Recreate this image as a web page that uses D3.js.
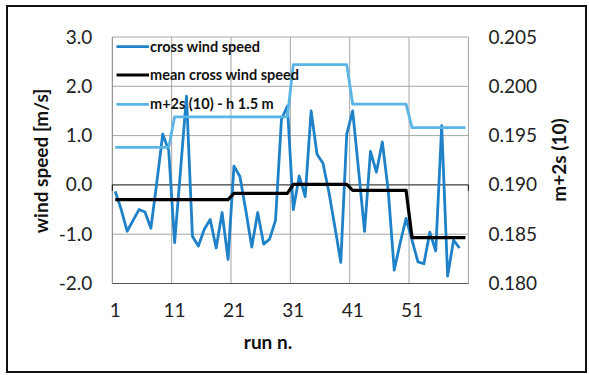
<!DOCTYPE html>
<html>
<head>
<meta charset="utf-8">
<script src="https://cdn.jsdelivr.net/npm/d3@7"></script>
<style>
  body { margin: 0; background: #fff; }
  svg { display: block; font-family: Lato, "Open Sans", sans-serif; }
</style>
</head>
<body>
<svg id="chart" width="589" height="375"></svg>
<script>
// Run numbers (category axis)
const runs = [1,2,3,4,5,6,7,8,9,10,11,12,13,14,15,16,17,18,19,20,
              21,22,23,24,25,26,27,28,29,30,31,32,33,34,35,36,37,38,39,40,
              41,42,43,44,45,46,47,48,49,50,51,52,53,54,55,56,57,58,59,60];

// Cross wind speed per run [m/s] (no value for run 60)
const crossWind = [-0.13,-0.50,-0.94,-0.72,-0.50,-0.55,-0.88,0.05,1.03,0.70,
                   -1.17,0.30,1.80,-1.04,-1.24,-0.90,-0.70,-1.28,-0.56,-1.51,
                   0.38,0.17,-0.52,-1.26,-0.56,-1.20,-1.10,-0.72,1.33,1.60,
                   -0.50,0.18,-0.24,1.50,0.62,0.44,-0.15,-0.85,-1.57,1.03,
                   1.50,0.30,-0.94,0.68,0.26,0.87,-0.12,-1.73,-1.18,-0.68,
                   -1.12,-1.56,-1.60,-0.96,-1.34,1.20,-1.85,-1.12,-1.28];

// Mean cross wind speed per run [m/s]
const meanCrossWind = [-0.30,-0.30,-0.30,-0.30,-0.30,-0.30,-0.30,-0.30,-0.30,-0.30,
                       -0.30,-0.30,-0.30,-0.30,-0.30,-0.30,-0.30,-0.30,-0.30,-0.30,
                       -0.17,-0.17,-0.17,-0.17,-0.17,-0.17,-0.17,-0.17,-0.17,-0.17,
                       0.01,0.01,0.01,0.01,0.01,0.01,0.01,0.01,0.01,0.01,
                       -0.11,-0.11,-0.11,-0.11,-0.11,-0.11,-0.11,-0.11,-0.11,-0.11,
                       -1.07,-1.07,-1.07,-1.07,-1.07,-1.07,-1.07,-1.07,-1.07,-1.07];

// m+2s (10) at h 1.5 m, right axis
const m2s = [0.1938,0.1938,0.1938,0.1938,0.1938,0.1938,0.1938,0.1938,0.1938,0.1938,
             0.1969,0.1969,0.1969,0.1969,0.1969,0.1969,0.1969,0.1969,0.1969,0.1969,
             0.1969,0.1969,0.1969,0.1969,0.1969,0.1969,0.1969,0.1969,0.1969,0.1969,
             0.2022,0.2022,0.2022,0.2022,0.2022,0.2022,0.2022,0.2022,0.2022,0.2022,
             0.1982,0.1982,0.1982,0.1982,0.1982,0.1982,0.1982,0.1982,0.1982,0.1982,
             0.1958,0.1958,0.1958,0.1958,0.1958,0.1958,0.1958,0.1958,0.1958,0.1958];

const leftTicks = [-2, -1, 0, 1, 2, 3];
const rightTicks = [0.180, 0.185, 0.190, 0.195, 0.200, 0.205];
const runTicks = [1, 11, 21, 31, 41, 51];
const gridRuns = [11, 21, 31, 41, 51];

const seriesNames = ["cross wind speed", "mean cross wind speed", "m+2s (10) - h 1.5 m"];
const colors = { cross: "#1f82c8", mean: "#000000", m2s: "#5ab5e6" };

const plot = { left: 112.3, right: 468.4, top: 37, bottom: 283.5 };

const svg = d3.select("#chart");

const x = d3.scaleBand().domain(runs).range([plot.left, plot.right]).paddingInner(0).paddingOuter(0);
const cx = d => x(d) + x.bandwidth() / 2;
const yL = d3.scaleLinear().domain([-2, 3]).range([plot.bottom, plot.top]);
const yR = d3.scaleLinear().domain([0.180, 0.205]).range([plot.bottom, plot.top]);

// outer frame
svg.append("rect").attr("x", 7).attr("y", 6).attr("width", 579).attr("height", 366)
  .attr("fill", "none").attr("stroke", "#111").attr("stroke-width", 2);

// horizontal gridlines
svg.append("g").selectAll("line").data(leftTicks.filter(v => v !== 0 && v !== -2)).join("line")
  .attr("x1", plot.left).attr("x2", plot.right)
  .attr("y1", d => yL(d)).attr("y2", d => yL(d))
  .attr("stroke", "#a6a6a6").attr("stroke-width", 1);

// vertical gridlines at category boundaries
svg.append("g").selectAll("line").data(gridRuns).join("line")
  .attr("x1", d => x(d)).attr("x2", d => x(d))
  .attr("y1", plot.top).attr("y2", plot.bottom)
  .attr("stroke", "#a6a6a6").attr("stroke-width", 1);

// plot border
svg.append("line").attr("x1", plot.right).attr("x2", plot.right).attr("y1", plot.top).attr("y2", plot.bottom)
  .attr("stroke", "#a6a6a6");
svg.append("line").attr("x1", plot.left).attr("x2", plot.left).attr("y1", plot.top).attr("y2", plot.bottom)
  .attr("stroke", "#7a7a7a");
svg.append("line").attr("x1", plot.left).attr("x2", plot.right).attr("y1", plot.bottom).attr("y2", plot.bottom)
  .attr("stroke", "#555").attr("stroke-width", 1.2);

// zero axis line with end ticks
svg.append("line").attr("x1", plot.left).attr("x2", plot.right).attr("y1", yL(0)).attr("y2", yL(0))
  .attr("stroke", "#111").attr("stroke-width", 1);
[plot.left, plot.right].forEach(px => {
  svg.append("line").attr("x1", px).attr("x2", px).attr("y1", yL(0)).attr("y2", yL(0) + 6)
    .attr("stroke", "#111").attr("stroke-width", 1);
});

// series lines
const crossLine = d3.line().x((d, i) => cx(runs[i])).y(d => yL(d));
const meanLine = d3.line().x((d, i) => cx(runs[i])).y(d => yL(d));
const m2sLine = d3.line().x((d, i) => cx(runs[i])).y(d => yR(d));

svg.append("path").datum(crossWind).attr("d", crossLine)
  .attr("fill", "none").attr("stroke", colors.cross).attr("stroke-width", 2.8).attr("stroke-linejoin", "round");
svg.append("path").datum(meanCrossWind).attr("d", meanLine)
  .attr("fill", "none").attr("stroke", colors.mean).attr("stroke-width", 3.2).attr("stroke-linejoin", "round");
svg.append("path").datum(m2s).attr("d", m2sLine)
  .attr("fill", "none").attr("stroke", colors.m2s).attr("stroke-width", 2.8).attr("stroke-linejoin", "round");

// axes
const fmt1 = d => d.toFixed(1);
const fmt3 = d => d.toFixed(3);

const gL = svg.append("g").attr("transform", `translate(${plot.left},0)`)
  .call(d3.axisLeft(yL).tickValues(leftTicks).tickFormat(fmt1).tickSize(0).tickPadding(20));
const gR = svg.append("g").attr("transform", `translate(${plot.right},0)`)
  .call(d3.axisRight(yR).tickValues(rightTicks).tickFormat(fmt3).tickSize(0).tickPadding(20));
const gB = svg.append("g").attr("transform", `translate(0,${plot.bottom})`)
  .call(d3.axisBottom(x).tickValues(runTicks).tickSize(0).tickPadding(20));
[gL, gR, gB].forEach(g => {
  g.select(".domain").remove();
  g.selectAll("text").attr("font-size", 19).attr("fill", "#222").attr("font-family", "Lato, 'Open Sans', sans-serif");
});

// axis titles
svg.append("text").attr("x", 268).attr("y", 349).attr("text-anchor", "middle")
  .attr("font-size", 19).attr("font-weight", "bold").attr("fill", "#111").text("run n.");
svg.append("text").attr("transform", "translate(48,161) rotate(-90)").attr("text-anchor", "middle")
  .attr("font-size", 19).attr("font-weight", "bold").attr("fill", "#111").text("wind speed [m/s]");
svg.append("text").attr("transform", "translate(566,160) rotate(-90)").attr("text-anchor", "middle")
  .attr("font-size", 19).attr("font-weight", "bold").attr("fill", "#111").text("m+2s (10)");

// legend
const legend = [
  { name: seriesNames[0], color: colors.cross, w: 2.8, y: 46.7 },
  { name: seriesNames[1], color: colors.mean, w: 3.2, y: 75 },
  { name: seriesNames[2], color: colors.m2s, w: 2.8, y: 104.3 }
];
const lg = svg.append("g").selectAll("g").data(legend).join("g");
lg.append("line").attr("x1", 116.5).attr("x2", 149).attr("y1", d => d.y).attr("y2", d => d.y)
  .attr("stroke", d => d.color).attr("stroke-width", d => d.w);
lg.append("text").attr("x", 150).attr("y", d => d.y + 5).attr("font-size", 14.5).attr("font-weight", "bold")
  .attr("fill", "#111").text(d => d.name);
</script>
</body>
</html>
